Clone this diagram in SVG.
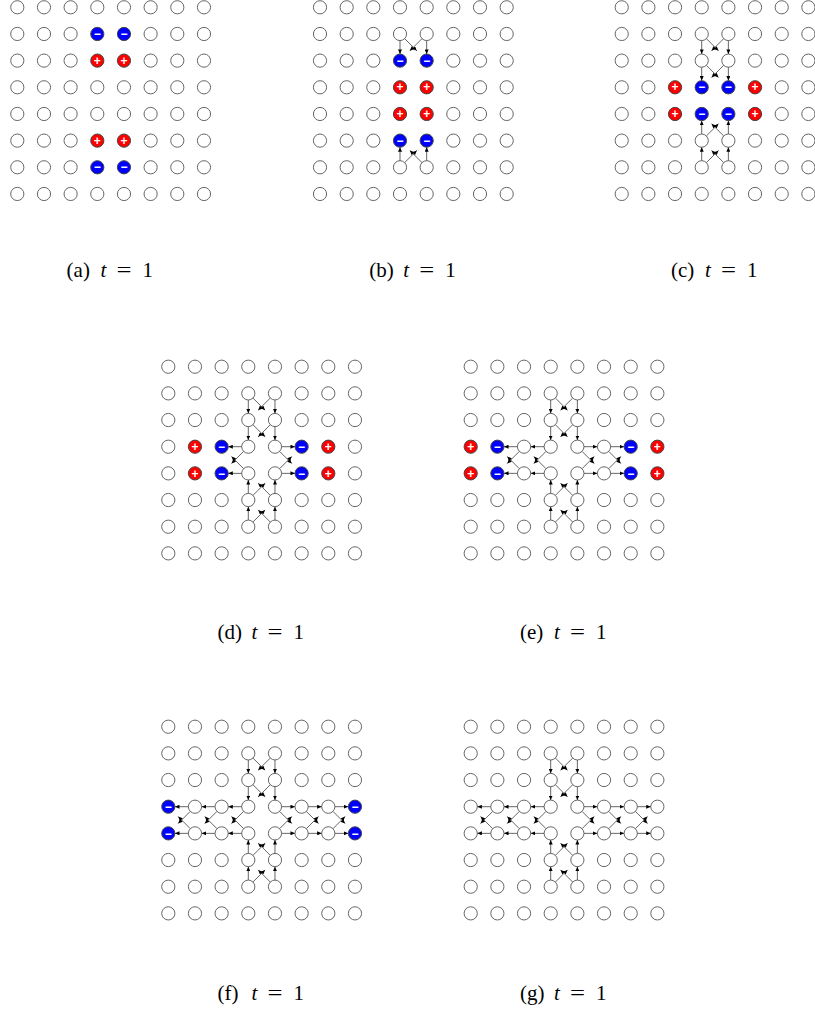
<svg xmlns="http://www.w3.org/2000/svg" width="815" height="1010" viewBox="0 0 815 1010">
<style>
.w{fill:#fff;stroke:#666;stroke-width:1}
.p circle{fill:#f00;stroke:#444;stroke-width:1}
.m circle{fill:#00f;stroke:#444;stroke-width:1}
.p text,.m text{fill:#fff;font-family:"Liberation Sans",Arial,sans-serif;font-weight:bold;font-size:12px;text-anchor:middle}
.ar line{stroke:#333;stroke-width:0.75;marker-end:url(#ah)}
.cap{font-family:"Liberation Serif","Times New Roman",serif;font-size:21px;fill:#000}
.it{font-style:italic}
</style>
<defs>
<marker id="ah" markerWidth="5" markerHeight="4" refX="4.5" refY="2" orient="auto" markerUnits="userSpaceOnUse"><path d="M0,0 L4.5,2 L0,4 z" fill="#000"/></marker>
<circle id="w" class="w" r="6.6"/>
<g id="vd1" class="ar"><line x1="80" y1="33.37" x2="80" y2="46.63"/><line x1="106.67" y1="33.37" x2="106.67" y2="46.63"/><line x1="84.74" y1="31.41" x2="96.8" y2="43.47"/><line x1="101.93" y1="31.41" x2="89.87" y2="43.47"/></g>
<g id="vd2" class="ar"><line x1="80" y1="60.03" x2="80" y2="73.3"/><line x1="106.67" y1="60.03" x2="106.67" y2="73.3"/><line x1="84.74" y1="58.07" x2="96.8" y2="70.13"/><line x1="101.93" y1="58.07" x2="89.87" y2="70.13"/></g>
<g id="vu6" class="ar"><line x1="80" y1="153.3" x2="80" y2="140.03"/><line x1="106.67" y1="153.3" x2="106.67" y2="140.03"/><line x1="84.74" y1="155.26" x2="96.8" y2="143.2"/><line x1="101.93" y1="155.26" x2="89.87" y2="143.2"/></g>
<g id="vu5" class="ar"><line x1="80" y1="126.63" x2="80" y2="113.37"/><line x1="106.67" y1="126.63" x2="106.67" y2="113.37"/><line x1="84.74" y1="128.59" x2="96.8" y2="116.53"/><line x1="101.93" y1="128.59" x2="89.87" y2="116.53"/></g>
<g id="hl3" class="ar"><line x1="73.3" y1="80" x2="60.03" y2="80"/><line x1="73.3" y1="106.67" x2="60.03" y2="106.67"/><line x1="75.26" y1="84.74" x2="63.2" y2="96.8"/><line x1="75.26" y1="101.93" x2="63.2" y2="89.87"/></g>
<g id="hl2" class="ar"><line x1="46.63" y1="80" x2="33.37" y2="80"/><line x1="46.63" y1="106.67" x2="33.37" y2="106.67"/><line x1="48.59" y1="84.74" x2="36.53" y2="96.8"/><line x1="48.59" y1="101.93" x2="36.53" y2="89.87"/></g>
<g id="hl1" class="ar"><line x1="19.97" y1="80" x2="6.7" y2="80"/><line x1="19.97" y1="106.67" x2="6.7" y2="106.67"/><line x1="21.93" y1="84.74" x2="9.87" y2="96.8"/><line x1="21.93" y1="101.93" x2="9.87" y2="89.87"/></g>
<g id="hr4" class="ar"><line x1="113.37" y1="80" x2="126.63" y2="80"/><line x1="113.37" y1="106.67" x2="126.63" y2="106.67"/><line x1="111.41" y1="84.74" x2="123.47" y2="96.8"/><line x1="111.41" y1="101.93" x2="123.47" y2="89.87"/></g>
<g id="hr5" class="ar"><line x1="140.03" y1="80" x2="153.3" y2="80"/><line x1="140.03" y1="106.67" x2="153.3" y2="106.67"/><line x1="138.07" y1="84.74" x2="150.13" y2="96.8"/><line x1="138.07" y1="101.93" x2="150.13" y2="89.87"/></g>
<g id="hr6" class="ar"><line x1="166.7" y1="80" x2="179.97" y2="80"/><line x1="166.7" y1="106.67" x2="179.97" y2="106.67"/><line x1="164.74" y1="84.74" x2="176.8" y2="96.8"/><line x1="164.74" y1="101.93" x2="176.8" y2="89.87"/></g>
</defs>
<rect width="815" height="1010" fill="#fff"/>

<!-- Panel a -->
<g id="panel-a" transform="translate(17.3,7.3)">
<use id="a00" href="#w" x="0" y="0"/><use id="a01" href="#w" x="26.67" y="0"/><use id="a02" href="#w" x="53.33" y="0"/><use id="a03" href="#w" x="80" y="0"/><use id="a04" href="#w" x="106.67" y="0"/><use id="a05" href="#w" x="133.33" y="0"/><use id="a06" href="#w" x="160" y="0"/><use id="a07" href="#w" x="186.67" y="0"/>
<use id="a10" href="#w" x="0" y="26.67"/><use id="a11" href="#w" x="26.67" y="26.67"/><use id="a12" href="#w" x="53.33" y="26.67"/>
<g id="a13" class="m"><circle cx="80" cy="26.67" r="6.6"/><text x="80" y="30.87">−</text></g>
<g id="a14" class="m"><circle cx="106.67" cy="26.67" r="6.6"/><text x="106.67" y="30.87">−</text></g>
<use id="a15" href="#w" x="133.33" y="26.67"/><use id="a16" href="#w" x="160" y="26.67"/><use id="a17" href="#w" x="186.67" y="26.67"/>
<use id="a20" href="#w" x="0" y="53.33"/><use id="a21" href="#w" x="26.67" y="53.33"/><use id="a22" href="#w" x="53.33" y="53.33"/>
<g id="a23" class="p"><circle cx="80" cy="53.33" r="6.6"/><text x="80" y="57.53">+</text></g>
<g id="a24" class="p"><circle cx="106.67" cy="53.33" r="6.6"/><text x="106.67" y="57.53">+</text></g>
<use id="a25" href="#w" x="133.33" y="53.33"/><use id="a26" href="#w" x="160" y="53.33"/><use id="a27" href="#w" x="186.67" y="53.33"/>
<use id="a30" href="#w" x="0" y="80"/><use id="a31" href="#w" x="26.67" y="80"/><use id="a32" href="#w" x="53.33" y="80"/><use id="a33" href="#w" x="80" y="80"/><use id="a34" href="#w" x="106.67" y="80"/><use id="a35" href="#w" x="133.33" y="80"/><use id="a36" href="#w" x="160" y="80"/><use id="a37" href="#w" x="186.67" y="80"/>
<use id="a40" href="#w" x="0" y="106.67"/><use id="a41" href="#w" x="26.67" y="106.67"/><use id="a42" href="#w" x="53.33" y="106.67"/><use id="a43" href="#w" x="80" y="106.67"/><use id="a44" href="#w" x="106.67" y="106.67"/><use id="a45" href="#w" x="133.33" y="106.67"/><use id="a46" href="#w" x="160" y="106.67"/><use id="a47" href="#w" x="186.67" y="106.67"/>
<use id="a50" href="#w" x="0" y="133.33"/><use id="a51" href="#w" x="26.67" y="133.33"/><use id="a52" href="#w" x="53.33" y="133.33"/>
<g id="a53" class="p"><circle cx="80" cy="133.33" r="6.6"/><text x="80" y="137.53">+</text></g>
<g id="a54" class="p"><circle cx="106.67" cy="133.33" r="6.6"/><text x="106.67" y="137.53">+</text></g>
<use id="a55" href="#w" x="133.33" y="133.33"/><use id="a56" href="#w" x="160" y="133.33"/><use id="a57" href="#w" x="186.67" y="133.33"/>
<use id="a60" href="#w" x="0" y="160"/><use id="a61" href="#w" x="26.67" y="160"/><use id="a62" href="#w" x="53.33" y="160"/>
<g id="a63" class="m"><circle cx="80" cy="160" r="6.6"/><text x="80" y="164.2">−</text></g>
<g id="a64" class="m"><circle cx="106.67" cy="160" r="6.6"/><text x="106.67" y="164.2">−</text></g>
<use id="a65" href="#w" x="133.33" y="160"/><use id="a66" href="#w" x="160" y="160"/><use id="a67" href="#w" x="186.67" y="160"/>
<use id="a70" href="#w" x="0" y="186.67"/><use id="a71" href="#w" x="26.67" y="186.67"/><use id="a72" href="#w" x="53.33" y="186.67"/><use id="a73" href="#w" x="80" y="186.67"/><use id="a74" href="#w" x="106.67" y="186.67"/><use id="a75" href="#w" x="133.33" y="186.67"/><use id="a76" href="#w" x="160" y="186.67"/><use id="a77" href="#w" x="186.67" y="186.67"/>
</g>

<!-- Panel b -->
<g id="panel-b" transform="translate(320,7.3)">
<use id="b00" href="#w" x="0" y="0"/><use id="b01" href="#w" x="26.67" y="0"/><use id="b02" href="#w" x="53.33" y="0"/><use id="b03" href="#w" x="80" y="0"/><use id="b04" href="#w" x="106.67" y="0"/><use id="b05" href="#w" x="133.33" y="0"/><use id="b06" href="#w" x="160" y="0"/><use id="b07" href="#w" x="186.67" y="0"/>
<use id="b10" href="#w" x="0" y="26.67"/><use id="b11" href="#w" x="26.67" y="26.67"/><use id="b12" href="#w" x="53.33" y="26.67"/><use id="b13" href="#w" x="80" y="26.67"/><use id="b14" href="#w" x="106.67" y="26.67"/><use id="b15" href="#w" x="133.33" y="26.67"/><use id="b16" href="#w" x="160" y="26.67"/><use id="b17" href="#w" x="186.67" y="26.67"/>
<use id="b20" href="#w" x="0" y="53.33"/><use id="b21" href="#w" x="26.67" y="53.33"/><use id="b22" href="#w" x="53.33" y="53.33"/>
<g id="b23" class="m"><circle cx="80" cy="53.33" r="6.6"/><text x="80" y="57.53">−</text></g>
<g id="b24" class="m"><circle cx="106.67" cy="53.33" r="6.6"/><text x="106.67" y="57.53">−</text></g>
<use id="b25" href="#w" x="133.33" y="53.33"/><use id="b26" href="#w" x="160" y="53.33"/><use id="b27" href="#w" x="186.67" y="53.33"/>
<use id="b30" href="#w" x="0" y="80"/><use id="b31" href="#w" x="26.67" y="80"/><use id="b32" href="#w" x="53.33" y="80"/>
<g id="b33" class="p"><circle cx="80" cy="80" r="6.6"/><text x="80" y="84.2">+</text></g>
<g id="b34" class="p"><circle cx="106.67" cy="80" r="6.6"/><text x="106.67" y="84.2">+</text></g>
<use id="b35" href="#w" x="133.33" y="80"/><use id="b36" href="#w" x="160" y="80"/><use id="b37" href="#w" x="186.67" y="80"/>
<use id="b40" href="#w" x="0" y="106.67"/><use id="b41" href="#w" x="26.67" y="106.67"/><use id="b42" href="#w" x="53.33" y="106.67"/>
<g id="b43" class="p"><circle cx="80" cy="106.67" r="6.6"/><text x="80" y="110.87">+</text></g>
<g id="b44" class="p"><circle cx="106.67" cy="106.67" r="6.6"/><text x="106.67" y="110.87">+</text></g>
<use id="b45" href="#w" x="133.33" y="106.67"/><use id="b46" href="#w" x="160" y="106.67"/><use id="b47" href="#w" x="186.67" y="106.67"/>
<use id="b50" href="#w" x="0" y="133.33"/><use id="b51" href="#w" x="26.67" y="133.33"/><use id="b52" href="#w" x="53.33" y="133.33"/>
<g id="b53" class="m"><circle cx="80" cy="133.33" r="6.6"/><text x="80" y="137.53">−</text></g>
<g id="b54" class="m"><circle cx="106.67" cy="133.33" r="6.6"/><text x="106.67" y="137.53">−</text></g>
<use id="b55" href="#w" x="133.33" y="133.33"/><use id="b56" href="#w" x="160" y="133.33"/><use id="b57" href="#w" x="186.67" y="133.33"/>
<use id="b60" href="#w" x="0" y="160"/><use id="b61" href="#w" x="26.67" y="160"/><use id="b62" href="#w" x="53.33" y="160"/><use id="b63" href="#w" x="80" y="160"/><use id="b64" href="#w" x="106.67" y="160"/><use id="b65" href="#w" x="133.33" y="160"/><use id="b66" href="#w" x="160" y="160"/><use id="b67" href="#w" x="186.67" y="160"/>
<use id="b70" href="#w" x="0" y="186.67"/><use id="b71" href="#w" x="26.67" y="186.67"/><use id="b72" href="#w" x="53.33" y="186.67"/><use id="b73" href="#w" x="80" y="186.67"/><use id="b74" href="#w" x="106.67" y="186.67"/><use id="b75" href="#w" x="133.33" y="186.67"/><use id="b76" href="#w" x="160" y="186.67"/><use id="b77" href="#w" x="186.67" y="186.67"/>
</g>

<!-- Panel c -->
<g id="panel-c" transform="translate(621.7,7.3)">
<use id="c00" href="#w" x="0" y="0"/><use id="c01" href="#w" x="26.67" y="0"/><use id="c02" href="#w" x="53.33" y="0"/><use id="c03" href="#w" x="80" y="0"/><use id="c04" href="#w" x="106.67" y="0"/><use id="c05" href="#w" x="133.33" y="0"/><use id="c06" href="#w" x="160" y="0"/><use id="c07" href="#w" x="186.67" y="0"/>
<use id="c10" href="#w" x="0" y="26.67"/><use id="c11" href="#w" x="26.67" y="26.67"/><use id="c12" href="#w" x="53.33" y="26.67"/><use id="c13" href="#w" x="80" y="26.67"/><use id="c14" href="#w" x="106.67" y="26.67"/><use id="c15" href="#w" x="133.33" y="26.67"/><use id="c16" href="#w" x="160" y="26.67"/><use id="c17" href="#w" x="186.67" y="26.67"/>
<use id="c20" href="#w" x="0" y="53.33"/><use id="c21" href="#w" x="26.67" y="53.33"/><use id="c22" href="#w" x="53.33" y="53.33"/><use id="c23" href="#w" x="80" y="53.33"/><use id="c24" href="#w" x="106.67" y="53.33"/><use id="c25" href="#w" x="133.33" y="53.33"/><use id="c26" href="#w" x="160" y="53.33"/><use id="c27" href="#w" x="186.67" y="53.33"/>
<use id="c30" href="#w" x="0" y="80"/><use id="c31" href="#w" x="26.67" y="80"/>
<g id="c32" class="p"><circle cx="53.33" cy="80" r="6.6"/><text x="53.33" y="84.2">+</text></g>
<g id="c33" class="m"><circle cx="80" cy="80" r="6.6"/><text x="80" y="84.2">−</text></g>
<g id="c34" class="m"><circle cx="106.67" cy="80" r="6.6"/><text x="106.67" y="84.2">−</text></g>
<g id="c35" class="p"><circle cx="133.33" cy="80" r="6.6"/><text x="133.33" y="84.2">+</text></g>
<use id="c36" href="#w" x="160" y="80"/><use id="c37" href="#w" x="186.67" y="80"/>
<use id="c40" href="#w" x="0" y="106.67"/><use id="c41" href="#w" x="26.67" y="106.67"/>
<g id="c42" class="p"><circle cx="53.33" cy="106.67" r="6.6"/><text x="53.33" y="110.87">+</text></g>
<g id="c43" class="m"><circle cx="80" cy="106.67" r="6.6"/><text x="80" y="110.87">−</text></g>
<g id="c44" class="m"><circle cx="106.67" cy="106.67" r="6.6"/><text x="106.67" y="110.87">−</text></g>
<g id="c45" class="p"><circle cx="133.33" cy="106.67" r="6.6"/><text x="133.33" y="110.87">+</text></g>
<use id="c46" href="#w" x="160" y="106.67"/><use id="c47" href="#w" x="186.67" y="106.67"/>
<use id="c50" href="#w" x="0" y="133.33"/><use id="c51" href="#w" x="26.67" y="133.33"/><use id="c52" href="#w" x="53.33" y="133.33"/><use id="c53" href="#w" x="80" y="133.33"/><use id="c54" href="#w" x="106.67" y="133.33"/><use id="c55" href="#w" x="133.33" y="133.33"/><use id="c56" href="#w" x="160" y="133.33"/><use id="c57" href="#w" x="186.67" y="133.33"/>
<use id="c60" href="#w" x="0" y="160"/><use id="c61" href="#w" x="26.67" y="160"/><use id="c62" href="#w" x="53.33" y="160"/><use id="c63" href="#w" x="80" y="160"/><use id="c64" href="#w" x="106.67" y="160"/><use id="c65" href="#w" x="133.33" y="160"/><use id="c66" href="#w" x="160" y="160"/><use id="c67" href="#w" x="186.67" y="160"/>
<use id="c70" href="#w" x="0" y="186.67"/><use id="c71" href="#w" x="26.67" y="186.67"/><use id="c72" href="#w" x="53.33" y="186.67"/><use id="c73" href="#w" x="80" y="186.67"/><use id="c74" href="#w" x="106.67" y="186.67"/><use id="c75" href="#w" x="133.33" y="186.67"/><use id="c76" href="#w" x="160" y="186.67"/><use id="c77" href="#w" x="186.67" y="186.67"/>
</g>

<!-- Panel d -->
<g id="panel-d" transform="translate(168.3,366.7)">
<use id="d00" href="#w" x="0" y="0"/><use id="d01" href="#w" x="26.67" y="0"/><use id="d02" href="#w" x="53.33" y="0"/><use id="d03" href="#w" x="80" y="0"/><use id="d04" href="#w" x="106.67" y="0"/><use id="d05" href="#w" x="133.33" y="0"/><use id="d06" href="#w" x="160" y="0"/><use id="d07" href="#w" x="186.67" y="0"/>
<use id="d10" href="#w" x="0" y="26.67"/><use id="d11" href="#w" x="26.67" y="26.67"/><use id="d12" href="#w" x="53.33" y="26.67"/><use id="d13" href="#w" x="80" y="26.67"/><use id="d14" href="#w" x="106.67" y="26.67"/><use id="d15" href="#w" x="133.33" y="26.67"/><use id="d16" href="#w" x="160" y="26.67"/><use id="d17" href="#w" x="186.67" y="26.67"/>
<use id="d20" href="#w" x="0" y="53.33"/><use id="d21" href="#w" x="26.67" y="53.33"/><use id="d22" href="#w" x="53.33" y="53.33"/><use id="d23" href="#w" x="80" y="53.33"/><use id="d24" href="#w" x="106.67" y="53.33"/><use id="d25" href="#w" x="133.33" y="53.33"/><use id="d26" href="#w" x="160" y="53.33"/><use id="d27" href="#w" x="186.67" y="53.33"/>
<use id="d30" href="#w" x="0" y="80"/>
<g id="d31" class="p"><circle cx="26.67" cy="80" r="6.6"/><text x="26.67" y="84.2">+</text></g>
<g id="d32" class="m"><circle cx="53.33" cy="80" r="6.6"/><text x="53.33" y="84.2">−</text></g>
<use id="d33" href="#w" x="80" y="80"/><use id="d34" href="#w" x="106.67" y="80"/>
<g id="d35" class="m"><circle cx="133.33" cy="80" r="6.6"/><text x="133.33" y="84.2">−</text></g>
<g id="d36" class="p"><circle cx="160" cy="80" r="6.6"/><text x="160" y="84.2">+</text></g>
<use id="d37" href="#w" x="186.67" y="80"/>
<use id="d40" href="#w" x="0" y="106.67"/>
<g id="d41" class="p"><circle cx="26.67" cy="106.67" r="6.6"/><text x="26.67" y="110.87">+</text></g>
<g id="d42" class="m"><circle cx="53.33" cy="106.67" r="6.6"/><text x="53.33" y="110.87">−</text></g>
<use id="d43" href="#w" x="80" y="106.67"/><use id="d44" href="#w" x="106.67" y="106.67"/>
<g id="d45" class="m"><circle cx="133.33" cy="106.67" r="6.6"/><text x="133.33" y="110.87">−</text></g>
<g id="d46" class="p"><circle cx="160" cy="106.67" r="6.6"/><text x="160" y="110.87">+</text></g>
<use id="d47" href="#w" x="186.67" y="106.67"/>
<use id="d50" href="#w" x="0" y="133.33"/><use id="d51" href="#w" x="26.67" y="133.33"/><use id="d52" href="#w" x="53.33" y="133.33"/><use id="d53" href="#w" x="80" y="133.33"/><use id="d54" href="#w" x="106.67" y="133.33"/><use id="d55" href="#w" x="133.33" y="133.33"/><use id="d56" href="#w" x="160" y="133.33"/><use id="d57" href="#w" x="186.67" y="133.33"/>
<use id="d60" href="#w" x="0" y="160"/><use id="d61" href="#w" x="26.67" y="160"/><use id="d62" href="#w" x="53.33" y="160"/><use id="d63" href="#w" x="80" y="160"/><use id="d64" href="#w" x="106.67" y="160"/><use id="d65" href="#w" x="133.33" y="160"/><use id="d66" href="#w" x="160" y="160"/><use id="d67" href="#w" x="186.67" y="160"/>
<use id="d70" href="#w" x="0" y="186.67"/><use id="d71" href="#w" x="26.67" y="186.67"/><use id="d72" href="#w" x="53.33" y="186.67"/><use id="d73" href="#w" x="80" y="186.67"/><use id="d74" href="#w" x="106.67" y="186.67"/><use id="d75" href="#w" x="133.33" y="186.67"/><use id="d76" href="#w" x="160" y="186.67"/><use id="d77" href="#w" x="186.67" y="186.67"/>
</g>

<!-- Panel e -->
<g id="panel-e" transform="translate(470.7,366.7)">
<use id="e00" href="#w" x="0" y="0"/><use id="e01" href="#w" x="26.67" y="0"/><use id="e02" href="#w" x="53.33" y="0"/><use id="e03" href="#w" x="80" y="0"/><use id="e04" href="#w" x="106.67" y="0"/><use id="e05" href="#w" x="133.33" y="0"/><use id="e06" href="#w" x="160" y="0"/><use id="e07" href="#w" x="186.67" y="0"/>
<use id="e10" href="#w" x="0" y="26.67"/><use id="e11" href="#w" x="26.67" y="26.67"/><use id="e12" href="#w" x="53.33" y="26.67"/><use id="e13" href="#w" x="80" y="26.67"/><use id="e14" href="#w" x="106.67" y="26.67"/><use id="e15" href="#w" x="133.33" y="26.67"/><use id="e16" href="#w" x="160" y="26.67"/><use id="e17" href="#w" x="186.67" y="26.67"/>
<use id="e20" href="#w" x="0" y="53.33"/><use id="e21" href="#w" x="26.67" y="53.33"/><use id="e22" href="#w" x="53.33" y="53.33"/><use id="e23" href="#w" x="80" y="53.33"/><use id="e24" href="#w" x="106.67" y="53.33"/><use id="e25" href="#w" x="133.33" y="53.33"/><use id="e26" href="#w" x="160" y="53.33"/><use id="e27" href="#w" x="186.67" y="53.33"/>
<g id="e30" class="p"><circle cx="0" cy="80" r="6.6"/><text x="0" y="84.2">+</text></g>
<g id="e31" class="m"><circle cx="26.67" cy="80" r="6.6"/><text x="26.67" y="84.2">−</text></g>
<use id="e32" href="#w" x="53.33" y="80"/><use id="e33" href="#w" x="80" y="80"/><use id="e34" href="#w" x="106.67" y="80"/><use id="e35" href="#w" x="133.33" y="80"/>
<g id="e36" class="m"><circle cx="160" cy="80" r="6.6"/><text x="160" y="84.2">−</text></g>
<g id="e37" class="p"><circle cx="186.67" cy="80" r="6.6"/><text x="186.67" y="84.2">+</text></g>
<g id="e40" class="p"><circle cx="0" cy="106.67" r="6.6"/><text x="0" y="110.87">+</text></g>
<g id="e41" class="m"><circle cx="26.67" cy="106.67" r="6.6"/><text x="26.67" y="110.87">−</text></g>
<use id="e42" href="#w" x="53.33" y="106.67"/><use id="e43" href="#w" x="80" y="106.67"/><use id="e44" href="#w" x="106.67" y="106.67"/><use id="e45" href="#w" x="133.33" y="106.67"/>
<g id="e46" class="m"><circle cx="160" cy="106.67" r="6.6"/><text x="160" y="110.87">−</text></g>
<g id="e47" class="p"><circle cx="186.67" cy="106.67" r="6.6"/><text x="186.67" y="110.87">+</text></g>
<use id="e50" href="#w" x="0" y="133.33"/><use id="e51" href="#w" x="26.67" y="133.33"/><use id="e52" href="#w" x="53.33" y="133.33"/><use id="e53" href="#w" x="80" y="133.33"/><use id="e54" href="#w" x="106.67" y="133.33"/><use id="e55" href="#w" x="133.33" y="133.33"/><use id="e56" href="#w" x="160" y="133.33"/><use id="e57" href="#w" x="186.67" y="133.33"/>
<use id="e60" href="#w" x="0" y="160"/><use id="e61" href="#w" x="26.67" y="160"/><use id="e62" href="#w" x="53.33" y="160"/><use id="e63" href="#w" x="80" y="160"/><use id="e64" href="#w" x="106.67" y="160"/><use id="e65" href="#w" x="133.33" y="160"/><use id="e66" href="#w" x="160" y="160"/><use id="e67" href="#w" x="186.67" y="160"/>
<use id="e70" href="#w" x="0" y="186.67"/><use id="e71" href="#w" x="26.67" y="186.67"/><use id="e72" href="#w" x="53.33" y="186.67"/><use id="e73" href="#w" x="80" y="186.67"/><use id="e74" href="#w" x="106.67" y="186.67"/><use id="e75" href="#w" x="133.33" y="186.67"/><use id="e76" href="#w" x="160" y="186.67"/><use id="e77" href="#w" x="186.67" y="186.67"/>
</g>

<!-- Panel f -->
<g id="panel-f" transform="translate(168.3,726.7)">
<use id="f00" href="#w" x="0" y="0"/><use id="f01" href="#w" x="26.67" y="0"/><use id="f02" href="#w" x="53.33" y="0"/><use id="f03" href="#w" x="80" y="0"/><use id="f04" href="#w" x="106.67" y="0"/><use id="f05" href="#w" x="133.33" y="0"/><use id="f06" href="#w" x="160" y="0"/><use id="f07" href="#w" x="186.67" y="0"/>
<use id="f10" href="#w" x="0" y="26.67"/><use id="f11" href="#w" x="26.67" y="26.67"/><use id="f12" href="#w" x="53.33" y="26.67"/><use id="f13" href="#w" x="80" y="26.67"/><use id="f14" href="#w" x="106.67" y="26.67"/><use id="f15" href="#w" x="133.33" y="26.67"/><use id="f16" href="#w" x="160" y="26.67"/><use id="f17" href="#w" x="186.67" y="26.67"/>
<use id="f20" href="#w" x="0" y="53.33"/><use id="f21" href="#w" x="26.67" y="53.33"/><use id="f22" href="#w" x="53.33" y="53.33"/><use id="f23" href="#w" x="80" y="53.33"/><use id="f24" href="#w" x="106.67" y="53.33"/><use id="f25" href="#w" x="133.33" y="53.33"/><use id="f26" href="#w" x="160" y="53.33"/><use id="f27" href="#w" x="186.67" y="53.33"/>
<g id="f30" class="m"><circle cx="0" cy="80" r="6.6"/><text x="0" y="84.2">−</text></g>
<use id="f31" href="#w" x="26.67" y="80"/><use id="f32" href="#w" x="53.33" y="80"/><use id="f33" href="#w" x="80" y="80"/><use id="f34" href="#w" x="106.67" y="80"/><use id="f35" href="#w" x="133.33" y="80"/><use id="f36" href="#w" x="160" y="80"/>
<g id="f37" class="m"><circle cx="186.67" cy="80" r="6.6"/><text x="186.67" y="84.2">−</text></g>
<g id="f40" class="m"><circle cx="0" cy="106.67" r="6.6"/><text x="0" y="110.87">−</text></g>
<use id="f41" href="#w" x="26.67" y="106.67"/><use id="f42" href="#w" x="53.33" y="106.67"/><use id="f43" href="#w" x="80" y="106.67"/><use id="f44" href="#w" x="106.67" y="106.67"/><use id="f45" href="#w" x="133.33" y="106.67"/><use id="f46" href="#w" x="160" y="106.67"/>
<g id="f47" class="m"><circle cx="186.67" cy="106.67" r="6.6"/><text x="186.67" y="110.87">−</text></g>
<use id="f50" href="#w" x="0" y="133.33"/><use id="f51" href="#w" x="26.67" y="133.33"/><use id="f52" href="#w" x="53.33" y="133.33"/><use id="f53" href="#w" x="80" y="133.33"/><use id="f54" href="#w" x="106.67" y="133.33"/><use id="f55" href="#w" x="133.33" y="133.33"/><use id="f56" href="#w" x="160" y="133.33"/><use id="f57" href="#w" x="186.67" y="133.33"/>
<use id="f60" href="#w" x="0" y="160"/><use id="f61" href="#w" x="26.67" y="160"/><use id="f62" href="#w" x="53.33" y="160"/><use id="f63" href="#w" x="80" y="160"/><use id="f64" href="#w" x="106.67" y="160"/><use id="f65" href="#w" x="133.33" y="160"/><use id="f66" href="#w" x="160" y="160"/><use id="f67" href="#w" x="186.67" y="160"/>
<use id="f70" href="#w" x="0" y="186.67"/><use id="f71" href="#w" x="26.67" y="186.67"/><use id="f72" href="#w" x="53.33" y="186.67"/><use id="f73" href="#w" x="80" y="186.67"/><use id="f74" href="#w" x="106.67" y="186.67"/><use id="f75" href="#w" x="133.33" y="186.67"/><use id="f76" href="#w" x="160" y="186.67"/><use id="f77" href="#w" x="186.67" y="186.67"/>
</g>

<!-- Panel g -->
<g id="panel-g" transform="translate(470.7,726.7)">
<use id="g00" href="#w" x="0" y="0"/><use id="g01" href="#w" x="26.67" y="0"/><use id="g02" href="#w" x="53.33" y="0"/><use id="g03" href="#w" x="80" y="0"/><use id="g04" href="#w" x="106.67" y="0"/><use id="g05" href="#w" x="133.33" y="0"/><use id="g06" href="#w" x="160" y="0"/><use id="g07" href="#w" x="186.67" y="0"/>
<use id="g10" href="#w" x="0" y="26.67"/><use id="g11" href="#w" x="26.67" y="26.67"/><use id="g12" href="#w" x="53.33" y="26.67"/><use id="g13" href="#w" x="80" y="26.67"/><use id="g14" href="#w" x="106.67" y="26.67"/><use id="g15" href="#w" x="133.33" y="26.67"/><use id="g16" href="#w" x="160" y="26.67"/><use id="g17" href="#w" x="186.67" y="26.67"/>
<use id="g20" href="#w" x="0" y="53.33"/><use id="g21" href="#w" x="26.67" y="53.33"/><use id="g22" href="#w" x="53.33" y="53.33"/><use id="g23" href="#w" x="80" y="53.33"/><use id="g24" href="#w" x="106.67" y="53.33"/><use id="g25" href="#w" x="133.33" y="53.33"/><use id="g26" href="#w" x="160" y="53.33"/><use id="g27" href="#w" x="186.67" y="53.33"/>
<use id="g30" href="#w" x="0" y="80"/><use id="g31" href="#w" x="26.67" y="80"/><use id="g32" href="#w" x="53.33" y="80"/><use id="g33" href="#w" x="80" y="80"/><use id="g34" href="#w" x="106.67" y="80"/><use id="g35" href="#w" x="133.33" y="80"/><use id="g36" href="#w" x="160" y="80"/><use id="g37" href="#w" x="186.67" y="80"/>
<use id="g40" href="#w" x="0" y="106.67"/><use id="g41" href="#w" x="26.67" y="106.67"/><use id="g42" href="#w" x="53.33" y="106.67"/><use id="g43" href="#w" x="80" y="106.67"/><use id="g44" href="#w" x="106.67" y="106.67"/><use id="g45" href="#w" x="133.33" y="106.67"/><use id="g46" href="#w" x="160" y="106.67"/><use id="g47" href="#w" x="186.67" y="106.67"/>
<use id="g50" href="#w" x="0" y="133.33"/><use id="g51" href="#w" x="26.67" y="133.33"/><use id="g52" href="#w" x="53.33" y="133.33"/><use id="g53" href="#w" x="80" y="133.33"/><use id="g54" href="#w" x="106.67" y="133.33"/><use id="g55" href="#w" x="133.33" y="133.33"/><use id="g56" href="#w" x="160" y="133.33"/><use id="g57" href="#w" x="186.67" y="133.33"/>
<use id="g60" href="#w" x="0" y="160"/><use id="g61" href="#w" x="26.67" y="160"/><use id="g62" href="#w" x="53.33" y="160"/><use id="g63" href="#w" x="80" y="160"/><use id="g64" href="#w" x="106.67" y="160"/><use id="g65" href="#w" x="133.33" y="160"/><use id="g66" href="#w" x="160" y="160"/><use id="g67" href="#w" x="186.67" y="160"/>
<use id="g70" href="#w" x="0" y="186.67"/><use id="g71" href="#w" x="26.67" y="186.67"/><use id="g72" href="#w" x="53.33" y="186.67"/><use id="g73" href="#w" x="80" y="186.67"/><use id="g74" href="#w" x="106.67" y="186.67"/><use id="g75" href="#w" x="133.33" y="186.67"/><use id="g76" href="#w" x="160" y="186.67"/><use id="g77" href="#w" x="186.67" y="186.67"/>
</g>

<!-- Connectors -->
<g id="connectors">
<g id="conn-b" transform="translate(320,7.3)"><use href="#vd1"/><use href="#vu6"/></g>
<g id="conn-c" transform="translate(621.7,7.3)"><use href="#vd1"/><use href="#vd2"/><use href="#vu6"/><use href="#vu5"/></g>
<g id="conn-d" transform="translate(168.3,366.7)"><use href="#vd1"/><use href="#vd2"/><use href="#vu6"/><use href="#vu5"/><use href="#hl3"/><use href="#hr4"/></g>
<g id="conn-e" transform="translate(470.7,366.7)"><use href="#vd1"/><use href="#vd2"/><use href="#vu6"/><use href="#vu5"/><use href="#hl3"/><use href="#hl2"/><use href="#hr4"/><use href="#hr5"/></g>
<g id="conn-f" transform="translate(168.3,726.7)"><use href="#vd1"/><use href="#vd2"/><use href="#vu6"/><use href="#vu5"/><use href="#hl3"/><use href="#hl2"/><use href="#hl1"/><use href="#hr4"/><use href="#hr5"/><use href="#hr6"/></g>
<g id="conn-g" transform="translate(470.7,726.7)"><use href="#vd1"/><use href="#vd2"/><use href="#vu6"/><use href="#vu5"/><use href="#hl3"/><use href="#hl2"/><use href="#hl1"/><use href="#hr4"/><use href="#hr5"/><use href="#hr6"/></g>
</g>

<!-- Captions -->
<g id="captions" class="cap">
<text id="cap-a"><tspan x="66.6" y="277">(a)</tspan><tspan class="it" x="100.6" y="277">t</tspan><tspan x="116.6" y="277" textLength="15" lengthAdjust="spacingAndGlyphs">=</tspan><tspan x="142.6" y="277">1</tspan></text>
<text id="cap-b"><tspan x="369.3" y="277">(b)</tspan><tspan class="it" x="403.3" y="277">t</tspan><tspan x="419.3" y="277" textLength="15" lengthAdjust="spacingAndGlyphs">=</tspan><tspan x="445.3" y="277">1</tspan></text>
<text id="cap-c"><tspan x="671" y="277">(c)</tspan><tspan class="it" x="705" y="277">t</tspan><tspan x="721" y="277" textLength="15" lengthAdjust="spacingAndGlyphs">=</tspan><tspan x="747" y="277">1</tspan></text>
<text id="cap-d"><tspan x="217.6" y="639">(d)</tspan><tspan class="it" x="251.6" y="639">t</tspan><tspan x="267.6" y="639" textLength="15" lengthAdjust="spacingAndGlyphs">=</tspan><tspan x="293.6" y="639">1</tspan></text>
<text id="cap-e"><tspan x="520" y="639">(e)</tspan><tspan class="it" x="554" y="639">t</tspan><tspan x="570" y="639" textLength="15" lengthAdjust="spacingAndGlyphs">=</tspan><tspan x="596" y="639">1</tspan></text>
<text id="cap-f"><tspan x="217.6" y="1000">(f)</tspan><tspan class="it" x="251.6" y="1000">t</tspan><tspan x="267.6" y="1000" textLength="15" lengthAdjust="spacingAndGlyphs">=</tspan><tspan x="293.6" y="1000">1</tspan></text>
<text id="cap-g"><tspan x="520" y="1000">(g)</tspan><tspan class="it" x="554" y="1000">t</tspan><tspan x="570" y="1000" textLength="15" lengthAdjust="spacingAndGlyphs">=</tspan><tspan x="596" y="1000">1</tspan></text>
</g>
</svg>
